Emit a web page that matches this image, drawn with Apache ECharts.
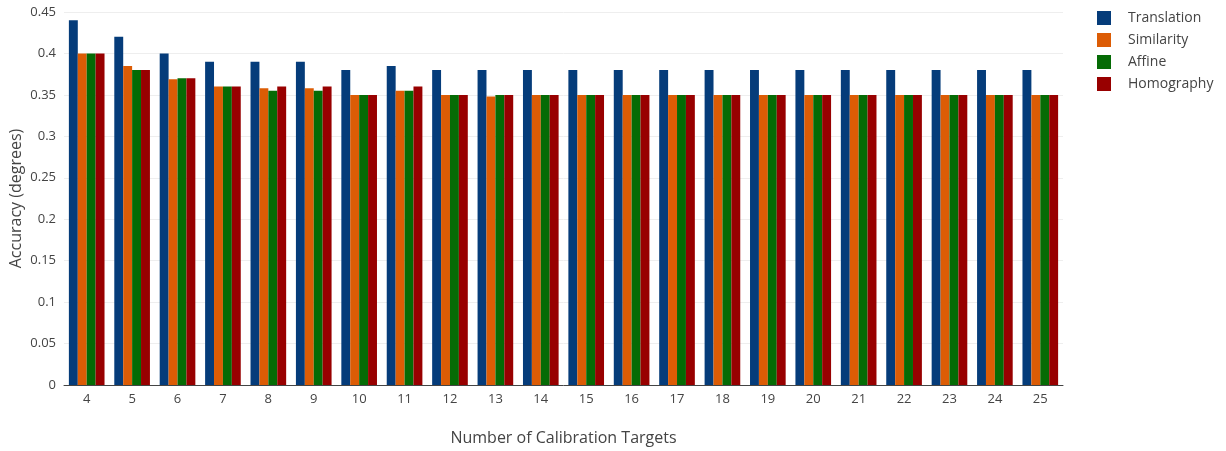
<!DOCTYPE html>
<html>
<head>
<meta charset="utf-8">
<script src="https://cdn.jsdelivr.net/npm/echarts@6/dist/echarts.min.js"></script>
<style>html,body{margin:0;padding:0;background:#fff}#c{width:1226px;height:451px}</style>
</head>
<body>
<div id="c"></div>
<script>
const categories = ['4','5','6','7','8','9','10','11','12','13','14','15','16','17','18','19','20','21','22','23','24','25'];
const translation = [0.44,0.42,0.40,0.39,0.39,0.39,0.38,0.385,0.38,0.38,0.38,0.38,0.38,0.38,0.38,0.38,0.38,0.38,0.38,0.38,0.38,0.38];
const similarity  = [0.40,0.385,0.369,0.36,0.358,0.358,0.35,0.355,0.35,0.348,0.35,0.35,0.35,0.35,0.35,0.35,0.35,0.35,0.35,0.35,0.35,0.35];
const affine      = [0.40,0.38,0.37,0.36,0.355,0.355,0.35,0.355,0.35,0.35,0.35,0.35,0.35,0.35,0.35,0.35,0.35,0.35,0.35,0.35,0.35,0.35];
const homography  = [0.40,0.38,0.37,0.36,0.36,0.36,0.35,0.36,0.35,0.35,0.35,0.35,0.35,0.35,0.35,0.35,0.35,0.35,0.35,0.35,0.35,0.35];
const seriesNames = ['Translation','Similarity','Affine','Homography'];
const colors = ['#053c7a','#dc5c05','#056b05','#980000'];

const font = '"Open Sans", sans-serif';
const chart = echarts.init(document.getElementById('c'), null, {renderer:'canvas'});
const mk = (name, data, i) => ({
  name, type:'bar', data, barGap:'0%', barCategoryGap:'21.5%',
  itemStyle:{color:colors[i]}
});
chart.setOption({
  animation:false,
  color:colors,
  textStyle:{fontFamily:font},
  grid:{left:64, right:163, top:12, bottom:66, containLabel:false, outerBoundsMode:'none'},
  legend:{
    orient:'vertical', left:1092, top:6, itemWidth:14, itemHeight:14, itemGap:8,
    icon:'rect',
    textStyle:{fontFamily:font, fontSize:14, color:'#444', padding:[0,0,0,12]},
    data:seriesNames
  },
  xAxis:{
    type:'category', data:categories,
    name:'Number of Calibration Targets', nameLocation:'middle', nameGap:45,
    nameTextStyle:{fontFamily:font, fontSize:16, color:'#444'},
    axisLine:{lineStyle:{color:'#444', width:1}},
    axisTick:{show:false},
    axisLabel:{fontFamily:font, fontSize:13, color:'#444', margin:8}
  },
  yAxis:{
    type:'value', min:0, max:0.45, interval:0.05,
    name:'Accuracy (degrees)', nameLocation:'middle', nameGap:40, nameMoveOverlap:false,
    nameTextStyle:{fontFamily:font, fontSize:16, color:'#444'},
    axisLine:{show:false},
    axisTick:{show:false},
    axisLabel:{fontFamily:font, fontSize:13, color:'#444', margin:8},
    splitLine:{lineStyle:{color:'#eeeeee', width:1}}
  },
  series:[
    mk(seriesNames[0], translation, 0),
    mk(seriesNames[1], similarity, 1),
    mk(seriesNames[2], affine, 2),
    mk(seriesNames[3], homography, 3)
  ]
});
</script>
</body>
</html>
